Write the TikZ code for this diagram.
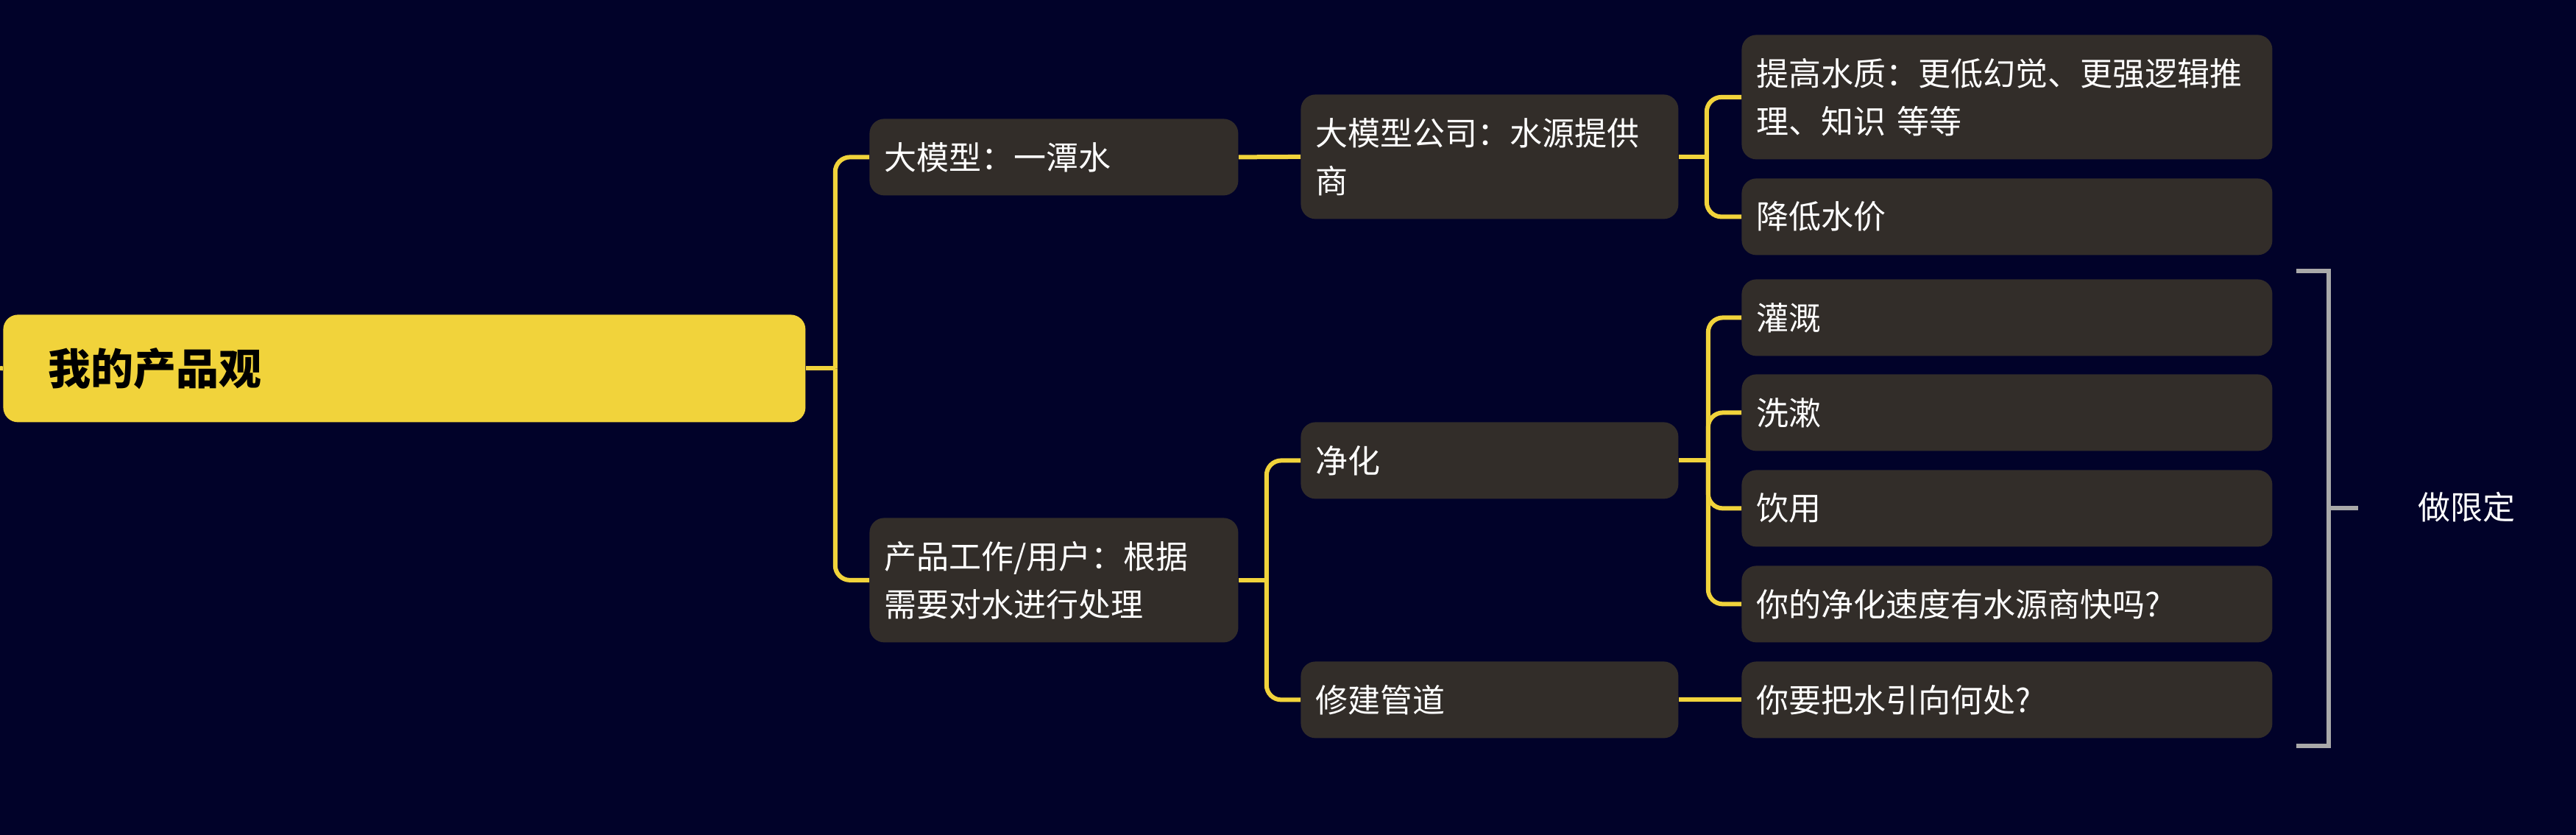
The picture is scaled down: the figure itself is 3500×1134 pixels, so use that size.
\documentclass[tikz,border=0pt]{standalone}
\usepackage{fontspec}
\setmainfont{Noto Sans CJK SC}
\definecolor{bg}{HTML}{010229}
\definecolor{nodefill}{HTML}{322D29}
\definecolor{yel}{HTML}{F1D33B}
\definecolor{brk}{HTML}{A9A9A9}
\begin{document}
\begin{tikzpicture}[x=0.5pt,y=-0.5pt,
  box/.style={fill=nodefill, rounded corners=10pt, text=white,
    font=\fontsize{22pt}{32.5pt}\selectfont, inner xsep=10pt, inner ysep=0pt,
    anchor=north west, align=left},
  lvtwo/.style={box, minimum width=250.5pt, text width=230.5pt},
  lvthree/.style={box, minimum width=256.5pt, text width=236.5pt},
  lvfour/.style={box, minimum width=360.5pt, text width=340.5pt},
  shortbox/.style={minimum height=52pt},
  tallbox/.style={minimum height=84.5pt},
  rootbox/.style={fill=yel, rounded corners=10pt, text=black,
    font=\fontsize{29pt}{36pt}\selectfont\bfseries, inner xsep=30.5pt, inner ysep=0pt,
    anchor=north west, align=left, minimum width=545pt, text width=484pt, minimum height=73pt},
  conn/.style={draw=yel, line width=3pt, rounded corners=10pt},
  bracketline/.style={draw=brk, line width=3.3pt},
  label/.style={text=white, font=\fontsize{22pt}{32.5pt}\selectfont, inner sep=0pt}
]
\fill[bg] (0,0) rectangle (3500,1134);
\useasboundingbox (0,0) rectangle (3500,1134);

% root
\node[rootbox] (root) at (4,427) {我的产品观};
\coordinate (stub) at (0,500);
\draw[conn] (root.west) -- (stub);

% level 2
\node[lvtwo, shortbox] (a) at (1181,161) {大模型：一潭水};
\node[lvtwo, tallbox] (b) at (1181,703) {产品工作/用户：根据\\需要对水进行处理};

% level 3
\node[lvthree, tallbox] (a1) at (1767,128) {大模型公司：水源提供\\商};
\node[lvthree, shortbox] (b1) at (1767,573) {净化};
\node[lvthree, shortbox] (b2) at (1767,898) {修建管道};

% level 4
\node[lvfour, tallbox] (a11) at (2366,47) {提高水质：更低幻觉、更强逻辑推\\理、知识 等等};
\node[lvfour, shortbox] (a12) at (2366,242) {降低水价};
\node[lvfour, shortbox] (b11) at (2366,379) {灌溉};
\node[lvfour, shortbox] (b12) at (2366,508) {洗漱};
\node[lvfour, shortbox] (b13) at (2366,638) {饮用};
\node[lvfour, shortbox] (b14) at (2366,768) {你的净化速度有水源商快吗?};
\node[lvfour, shortbox] (b21) at (2366,898) {你要把水引向何处?};

% connectors
\draw[conn] (root.east) -- ++(20pt,0) coordinate (t0);
\draw[conn] (t0) |- (a.west);
\draw[conn] (t0) |- (b.west);

\draw[conn] (a.east) -- (a1.west);

\draw[conn] (a1.east) -- ++(19pt,0) coordinate (t1);
\draw[conn] (t1) |- (a11.west);
\draw[conn] (t1) |- (a12.west);

\draw[conn] (b.east) -- ++(19pt,0) coordinate (t2);
\draw[conn] (t2) |- (b1.west);
\draw[conn] (t2) |- (b2.west);

\draw[conn] (b1.east) -- ++(20pt,0) coordinate (t3);
\draw[conn] (t3) |- (b11.west);
\draw[conn] (t3) |- (b12.west);
\draw[conn] (t3) |- (b13.west);
\draw[conn] (t3) |- (b14.west);

\draw[conn] (b2.east) -- (b21.west);

% summary bracket
\coordinate (bt) at (3120,368);
\coordinate (bb) at (3120,1013);
\coordinate (bm) at (3164,690);
\coordinate (btip) at (3204,690);
\draw[bracketline] (bt) -- (3164,368) -- (3164,1013) -- (bb);
\draw[bracketline] (bm) -- (btip);
\node[label] (summ) at (3351,689) {做限定};
\end{tikzpicture}
\end{document}
